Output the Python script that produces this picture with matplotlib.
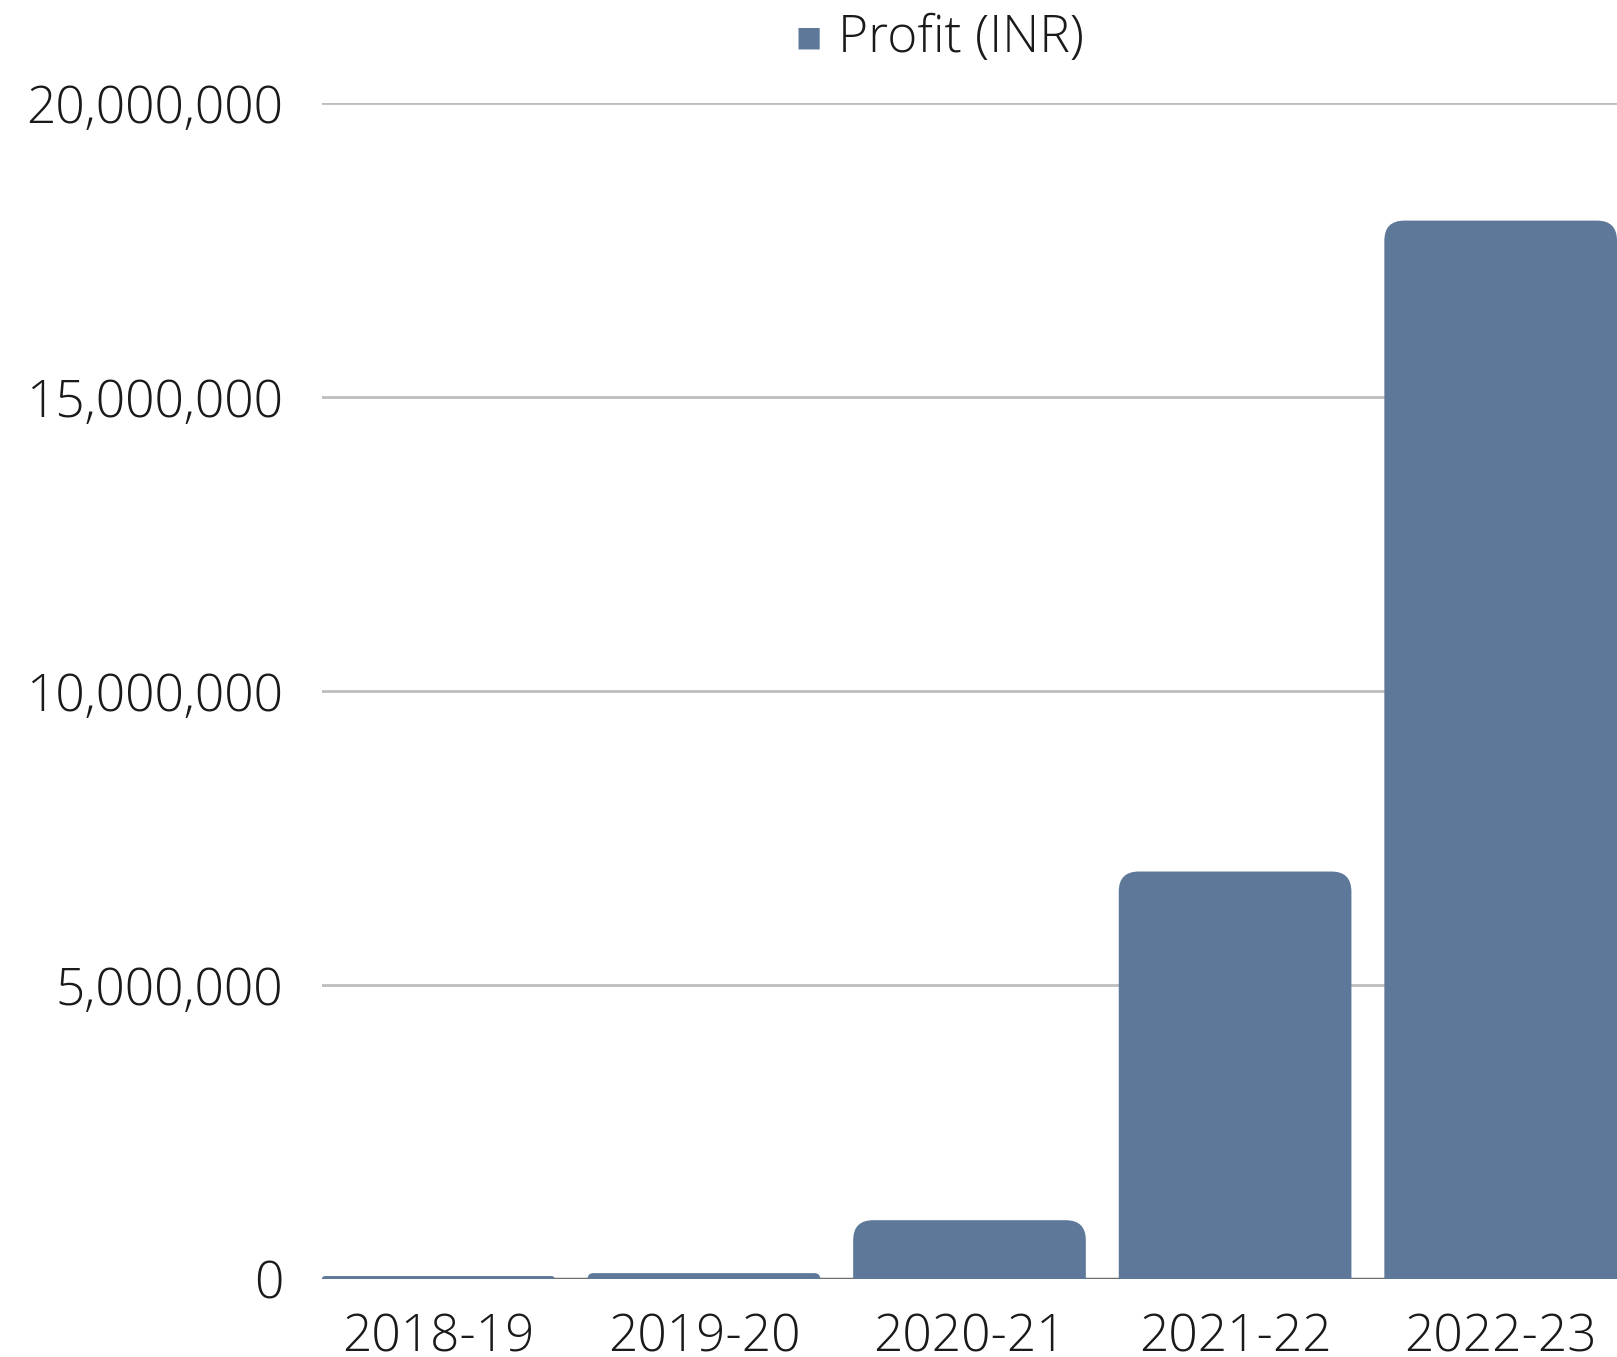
import matplotlib
matplotlib.use('Agg')
import matplotlib.pyplot as plt
from matplotlib.patches import FancyBboxPatch
from matplotlib.ticker import FuncFormatter

years = ['2018-19', '2019-20', '2020-21', '2021-22', '2022-23']
profit = [50000, 100000, 1000000, 6930000, 18000000]
yticks = [0, 5000000, 10000000, 15000000, 20000000]

bar_color = '#5d7898'
W, H, DPI = 16.17, 13.57, 100

plt.rcParams['font.family'] = ['Open Sans', 'DejaVu Sans']
plt.rcParams['font.weight'] = 300

fig = plt.figure(figsize=(W, H), dpi=DPI)
# axes: left 322px, right 1617px, top(20M)=103px, bottom(0)=1279px
ax = fig.add_axes([322 / 1617, 1 - 1279 / 1357, (1617 - 322) / 1617, (1279 - 103) / 1357])

bw = 0.876
ax.set_xlim(-bw / 2, len(years) - 1 + bw / 2)
ax.set_ylim(0, 20000000)

# pixel -> data scale for rounding corners
px_x = (len(years) - 1 + bw) / 1295
px_y = 20000000 / 1176
for i, v in enumerate(profit):
    r = min(20, v / px_y)
    pad = r * px_y * 1.5
    p = FancyBboxPatch((i - bw / 2, -pad), bw, v + pad,
                       boxstyle=f'round,pad=0,rounding_size={r * px_x}',
                       mutation_aspect=px_y / px_x,
                       facecolor=bar_color, edgecolor='none', zorder=3)
    ax.add_patch(p)

ax.set_yticks(yticks)
ax.yaxis.set_major_formatter(FuncFormatter(lambda v, _: f'{int(v):,}'))
ax.grid(axis='y', color='#bdbdbd', linewidth=2, zorder=0)
ax.axhline(0, color='#6e6e6e', linewidth=2.5, zorder=2)
ax.set_xticks(range(len(years)))
ax.set_xticklabels(years)
ax.tick_params(axis='y', length=0, pad=28, labelsize=37, labelcolor='#1a1a1a')
ax.tick_params(axis='x', length=0, pad=24, labelsize=37, labelcolor='#1a1a1a')
for s in ax.spines.values():
    s.set_visible(False)

# legend
fig.text(0.5, 1 - 38 / 1357, '\u25a0', color=bar_color, fontsize=20,
         ha='center', va='center', family='DejaVu Sans')
fig.text(0.518, 1 - 38 / 1357, 'Profit (INR)', fontsize=37, color='#1a1a1a',
         ha='left', va='center')

fig.savefig('out.png', dpi=DPI)
